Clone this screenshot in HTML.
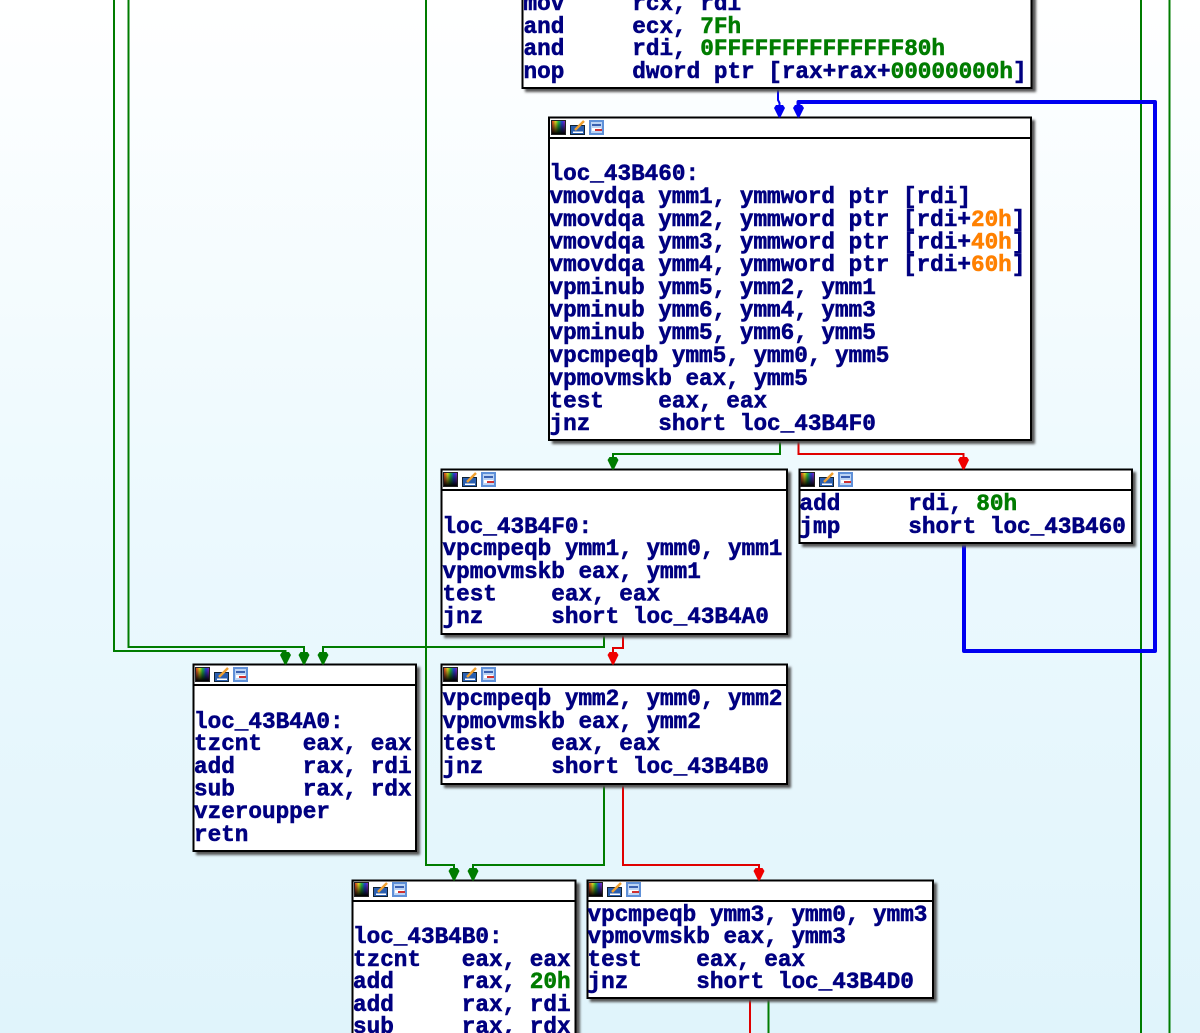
<!DOCTYPE html>
<html><head><meta charset="utf-8"><style>
html,body{margin:0;padding:0;width:1200px;height:1033px;overflow:hidden;background:#fff}
svg{display:block}
text{font-family:"Liberation Mono",monospace;font-weight:700;font-size:22.67px;fill:#000080;stroke:#000080;stroke-width:.55px;white-space:pre}
.g{fill:#007c00;stroke:#007c00}.o{fill:#ff8000;stroke:#ff8000}
.e{fill:none;stroke-width:2}
</style></head><body>
<svg xmlns="http://www.w3.org/2000/svg" width="1200" height="1033" viewBox="0 0 1200 1033">
<defs>
<linearGradient id="bg" x1="0" y1="0" x2="0" y2="1"><stop offset="0" stop-color="#ffffff"/><stop offset=".5" stop-color="#ecf9fe"/><stop offset="1" stop-color="#e0f4fb"/></linearGradient>
<linearGradient id="rb" x1="0" y1="0" x2="1" y2="0"><stop offset="0" stop-color="#e02020"/><stop offset=".3" stop-color="#e0e020"/><stop offset=".5" stop-color="#20c040"/><stop offset=".75" stop-color="#2040e0"/><stop offset="1" stop-color="#a020c0"/></linearGradient>
<linearGradient id="dk" x1="0" y1="0" x2="0" y2="1"><stop offset="0" stop-color="#000" stop-opacity="0"/><stop offset="1" stop-color="#000"/></linearGradient>
<filter id="sh" x="-5%" y="-5%" width="110%" height="110%"><feGaussianBlur stdDeviation="1.2"/></filter>
<path id="ah" d="M-3.500 -13H3.500L5.500 -10L0.800 -0.500H-0.800L-5.500 -10Z"/>
<g id="ic">
<rect x="0.500" y="0.500" width="14" height="14" fill="url(#rb)" stroke="#222" stroke-width="1"/><rect x="1" y="1" width="13" height="13" fill="url(#dk)"/>
<rect x="19.500" y="5.500" width="14" height="9" fill="#2a5fb0" stroke="#123" stroke-width="1"/><path d="M24 10L33 1" stroke="#f0a030" stroke-width="2.500"/><rect x="22" y="11.500" width="10" height="1.500" fill="#fff"/>
<rect x="38" y="0" width="15" height="15" fill="#5f90d8"/><rect x="40" y="2" width="11" height="11" fill="#bcd4f4"/><rect x="41" y="4" width="9" height="2" fill="#3a60b0"/><rect x="41" y="8" width="9" height="3" fill="#fff"/><rect x="44" y="9" width="7" height="2" fill="#d03030"/>
</g>
</defs>
<rect width="1200" height="1033" fill="url(#bg)"/>

<!-- edges green -->
<g class="e" stroke="#007c00" fill="none">
<path d="M114 0V651H285.500V656"/>
<path d="M128.500 0V647H304V656"/>
<path d="M604 634V647H323V656"/>
<path d="M426 0V865H454V872"/>
<path d="M604 784V865H473V872"/>
<path d="M780 440V454H613V461"/>
<path d="M1141 0V1033"/>
<path d="M1169.500 0V1033"/>
<path d="M768.500 998V1033"/>
</g>
<!-- edges red -->
<g class="e" stroke="#e00000" fill="none">
<path d="M623 634V648H613V656"/>
<path d="M623 784V865H759V872"/>
<path d="M798.500 440V454H963.500V461"/>
<path d="M750 998V1033"/>
</g>
<!-- edges blue -->
<path d="M778 88V100L779.500 103V110" fill="none" stroke="#0000f0" stroke-width="2"/>
<path d="M964 543V651H1155V102H798.500V110" fill="none" stroke="#0000f0" stroke-width="4" stroke-linejoin="round"/>

<!-- blocks -->
<g fill="#555" filter="url(#sh)">
<rect x="525" y="-5" width="511" height="97"/><rect x="552" y="120" width="483" height="324"/>
<rect x="444" y="472" width="347" height="166"/><rect x="802" y="472" width="334" height="75"/>
<rect x="196" y="667" width="224" height="188"/><rect x="444" y="667" width="347" height="121"/>
<rect x="355" y="883" width="225" height="160"/><rect x="590" y="883" width="347" height="119"/>
</g>
<g fill="#fff" stroke="#000" stroke-width="2">
<rect x="522.500" y="-5" width="509" height="93"/>
<rect x="549" y="117.500" width="482" height="322.500"/><path d="M549 138H1031"/>
<rect x="441.500" y="469.500" width="345.500" height="164.500"/><path d="M441 490H787"/>
<rect x="799.500" y="469.500" width="332.500" height="73.500"/><path d="M799 490H1132"/>
<rect x="193.500" y="664.500" width="222.500" height="186.500"/><path d="M193 685H416"/>
<rect x="441.500" y="664.500" width="345.500" height="119.500"/><path d="M441 685H787"/>
<rect x="352.500" y="880.500" width="223" height="170"/><path d="M352 901H576"/>
<rect x="587.500" y="880.500" width="345.500" height="117.500"/><path d="M587 901H933"/>
</g>
<!-- arrowheads -->
<g fill="#007c00">
<use href="#ah" x="285.500" y="665"/><use href="#ah" x="304" y="665"/><use href="#ah" x="323" y="665"/>
<use href="#ah" x="454" y="881"/><use href="#ah" x="473" y="881"/><use href="#ah" x="613" y="470"/>
</g>
<g fill="#f00000">
<use href="#ah" x="613" y="665"/><use href="#ah" x="759" y="881"/><use href="#ah" x="963.500" y="470"/>
</g>
<g fill="#0000f0"><use href="#ah" x="779.500" y="118"/><use href="#ah" x="798.500" y="118"/></g>

<use href="#ic" x="551" y="120"/><use href="#ic" x="443" y="472"/><use href="#ic" x="800" y="472"/>
<use href="#ic" x="195" y="667"/><use href="#ic" x="443" y="667"/><use href="#ic" x="354" y="882"/><use href="#ic" x="588" y="882"/>

<!-- block A -->
<text x="523.500" y="10" xml:space="preserve">mov     rcx, rdi</text>
<text x="523.500" y="33" xml:space="preserve">and     ecx, <tspan class="g">7Fh</tspan></text>
<text x="523.500" y="55" xml:space="preserve">and     rdi, <tspan class="g">0FFFFFFFFFFFFFF80h</tspan></text>
<text x="523.500" y="78" xml:space="preserve">nop     dword ptr [rax+rax+<tspan class="g">00000000h</tspan>]</text>
<!-- block B -->
<text x="549.500" y="180" xml:space="preserve">loc_43B460:</text>
<text x="549.500" y="203" xml:space="preserve">vmovdqa ymm1, ymmword ptr [rdi]</text>
<text x="549.500" y="226" xml:space="preserve">vmovdqa ymm2, ymmword ptr [rdi+<tspan class="o">20h</tspan>]</text>
<text x="549.500" y="248.500" xml:space="preserve">vmovdqa ymm3, ymmword ptr [rdi+<tspan class="o">40h</tspan>]</text>
<text x="549.500" y="271" xml:space="preserve">vmovdqa ymm4, ymmword ptr [rdi+<tspan class="o">60h</tspan>]</text>
<text x="549.500" y="294" xml:space="preserve">vpminub ymm5, ymm2, ymm1</text>
<text x="549.500" y="316.500" xml:space="preserve">vpminub ymm6, ymm4, ymm3</text>
<text x="549.500" y="339" xml:space="preserve">vpminub ymm5, ymm6, ymm5</text>
<text x="549.500" y="362" xml:space="preserve">vpcmpeqb ymm5, ymm0, ymm5</text>
<text x="549.500" y="385" xml:space="preserve">vpmovmskb eax, ymm5</text>
<text x="549.500" y="407.500" xml:space="preserve">test    eax, eax</text>
<text x="549.500" y="430" xml:space="preserve">jnz     short loc_43B4F0</text>
<!-- block C -->
<text x="442.500" y="533" xml:space="preserve">loc_43B4F0:</text>
<text x="442.500" y="555" xml:space="preserve">vpcmpeqb ymm1, ymm0, ymm1</text>
<text x="442.500" y="578" xml:space="preserve">vpmovmskb eax, ymm1</text>
<text x="442.500" y="600.500" xml:space="preserve">test    eax, eax</text>
<text x="442.500" y="623" xml:space="preserve">jnz     short loc_43B4A0</text>
<!-- block D -->
<text x="799.500" y="510" xml:space="preserve">add     rdi, <tspan class="g">80h</tspan></text>
<text x="799.500" y="533" xml:space="preserve">jmp     short loc_43B460</text>
<!-- block E -->
<text x="194" y="728" xml:space="preserve">loc_43B4A0:</text>
<text x="194" y="750" xml:space="preserve">tzcnt   eax, eax</text>
<text x="194" y="773" xml:space="preserve">add     rax, rdi</text>
<text x="194" y="795.500" xml:space="preserve">sub     rax, rdx</text>
<text x="194" y="818" xml:space="preserve">vzeroupper</text>
<text x="194" y="841" xml:space="preserve">retn</text>
<!-- block F -->
<text x="442.500" y="705" xml:space="preserve">vpcmpeqb ymm2, ymm0, ymm2</text>
<text x="442.500" y="728" xml:space="preserve">vpmovmskb eax, ymm2</text>
<text x="442.500" y="750" xml:space="preserve">test    eax, eax</text>
<text x="442.500" y="773" xml:space="preserve">jnz     short loc_43B4B0</text>
<!-- block G -->
<text x="353" y="943" xml:space="preserve">loc_43B4B0:</text>
<text x="353" y="966" xml:space="preserve">tzcnt   eax, eax</text>
<text x="353" y="988" xml:space="preserve">add     rax, <tspan class="g">20h</tspan></text>
<text x="353" y="1011" xml:space="preserve">add     rax, rdi</text>
<text x="353" y="1033" xml:space="preserve">sub     rax, rdx</text>
<!-- block H -->
<text x="587.500" y="921" xml:space="preserve">vpcmpeqb ymm3, ymm0, ymm3</text>
<text x="587.500" y="943" xml:space="preserve">vpmovmskb eax, ymm3</text>
<text x="587.500" y="966" xml:space="preserve">test    eax, eax</text>
<text x="587.500" y="988" xml:space="preserve">jnz     short loc_43B4D0</text>
</svg>
</body></html>
